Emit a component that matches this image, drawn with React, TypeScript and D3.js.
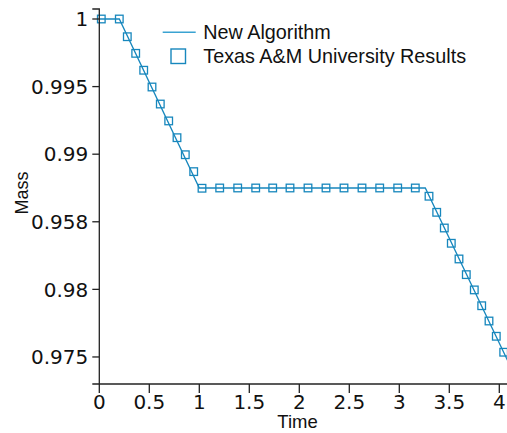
import React from "react";
import * as d3 from "d3";

const xTicks = [0, 0.5, 1, 1.5, 2, 2.5, 3, 3.5, 4];
const xTickLabels = ["0", "0.5", "1", "1.5", "2", "2.5", "3", "3.5", "4"];
const yTicks = [0.975, 0.98, 0.985, 0.99, 0.995, 1];
const yTickLabels = ["0.975", "0.98", "0.958", "0.99", "0.995", "1"];

const algTime = [0, 0.2, 1.0, 3.26, 4.1];
const algMass = [1, 1, 0.9875, 0.9875, 0.97448];

const tamuTime = [
  0.02, 0.2, 0.28, 0.364, 0.444, 0.527, 0.61, 0.694, 0.777, 0.86, 0.944, 1.027,
  1.204, 1.384, 1.564, 1.734, 1.907, 2.087, 2.267, 2.447, 2.627, 2.804, 2.984, 3.16,
  3.297, 3.374, 3.45, 3.52, 3.597, 3.67, 3.75, 3.824, 3.897, 3.97, 4.044,
];
const tamuMass = [
  1, 1, 0.99869, 0.99746, 0.99621, 0.99497, 0.99371, 0.99246, 0.99122, 0.98996, 0.98871, 0.98748,
  0.9875, 0.9875, 0.9875, 0.9875, 0.9875, 0.9875, 0.9875, 0.9875, 0.9875, 0.9875, 0.9875, 0.9875,
  0.98689, 0.9857, 0.98454, 0.98341, 0.98225, 0.98109, 0.97996, 0.97879, 0.97766, 0.97653, 0.97535,
];

const BLUE = "#1787bd";
const AXIS = "#222";

export default function App() {
  const x = d3.scaleLinear().domain([0, 4.1]).range([99.3, 509.3]);
  const y = d3.scaleLinear().domain([0.973, 1.00074]).range([384, 9]);

  const line = d3
    .line<number>()
    .x((_, i) => x(algTime[i]))
    .y((d) => y(d));

  const [x0, x1] = x.range();
  const [yb, yt] = y.range();
  const tickFont = "'DejaVu Sans', sans-serif";
  const textFont = "'Liberation Sans', Arial, sans-serif";

  return (
    <svg
      width={507}
      height={433}
      style={{ position: "absolute", left: 0, top: 0, background: "#fff" }}
    >
      {/* plot line */}
      <path d={line(algMass) || ""} fill="none" stroke={BLUE} strokeWidth={1.3} />
      {/* markers */}
      {tamuTime.map((t, i) => (
        <rect
          key={i}
          x={x(t) - 3.8}
          y={y(tamuMass[i]) - 3.8}
          width={7.6}
          height={7.6}
          fill="none"
          stroke={BLUE}
          strokeWidth={1.3}
        />
      ))}

      {/* y axis */}
      <path
        d={`M${x0 - 7},${yt}H${x0}V${yb}H${x0 - 7}`}
        fill="none"
        stroke={AXIS}
        strokeWidth={1.3}
      />
      {yTicks.map((v, i) => (
        <g key={i} transform={`translate(0,${y(v)})`}>
          <line x1={x0 - 7} x2={x0} stroke={AXIS} strokeWidth={1.3} />
          <text
            x={x0 - 11}
            dy="0.36em"
            textAnchor="end"
            fontFamily={tickFont}
            fontSize={20}
            fill="#111"
          >
            {yTickLabels[i]}
          </text>
        </g>
      ))}

      {/* x axis */}
      <path d={`M${x0},${yb}H${x1}`} fill="none" stroke={AXIS} strokeWidth={1.3} />
      {xTicks.map((v, i) => (
        <g key={i} transform={`translate(${x(v)},${yb})`}>
          <line y1={0} y2={9} stroke={AXIS} strokeWidth={1.3} />
          <text
            y={25}
            textAnchor="middle"
            fontFamily={tickFont}
            fontSize={20}
            fill="#111"
          >
            {xTickLabels[i]}
          </text>
        </g>
      ))}

      {/* axis titles */}
      <text
        x={297.5}
        y={428}
        textAnchor="middle"
        fontFamily={textFont}
        fontSize={18.5}
        fill="#111"
      >
        Time
      </text>
      <text
        transform="translate(27.5,193) rotate(-90)"
        textAnchor="middle"
        fontFamily={textFont}
        fontSize={18}
        fill="#111"
      >
        Mass
      </text>

      {/* legend */}
      <line x1={162.7} x2={195.7} y1={32.3} y2={32.3} stroke="#3aa3d2" strokeWidth={1.5} />
      <text x={203.3} y={39.3} fontFamily={textFont} fontSize={19.8} fill="#111">
        New Algorithm
      </text>
      <rect
        x={171}
        y={49}
        width={14.5}
        height={14.5}
        fill="none"
        stroke={BLUE}
        strokeWidth={1.4}
      />
      <text x={203.3} y={63.3} fontFamily={textFont} fontSize={19.8} fill="#111">
        Texas A&amp;M University Results
      </text>
    </svg>
  );
}
